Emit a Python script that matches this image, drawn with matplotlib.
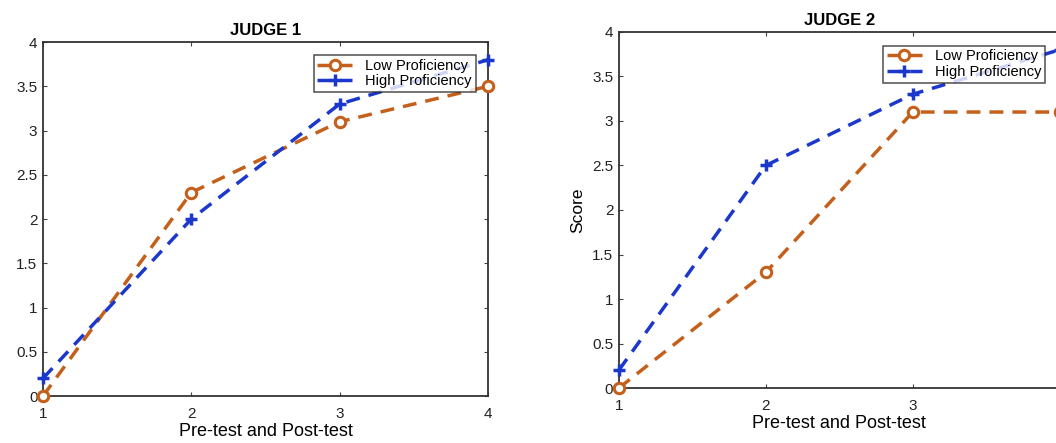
import matplotlib.pyplot as plt
from matplotlib.ticker import FuncFormatter

plt.rcParams['font.family'] = ['Liberation Sans', 'DejaVu Sans']

# test occasions on the x axis
tests = [1, 2, 3, 4]

# judge 1 scores
judge1_low = [0.0, 2.3, 3.1, 3.5]
judge1_high = [0.2, 2.0, 3.3, 3.8]

# judge 2 scores
judge2_low = [0.0, 1.3, 3.1, 3.1]
judge2_high = [0.2, 2.5, 3.3, 3.8]

titles = ['JUDGE 1', 'JUDGE 2']
series_labels = ['Low Proficiency', 'High Proficiency']
y_ticks = [0, 0.5, 1, 1.5, 2, 2.5, 3, 3.5, 4]

LOW_COLOR = '#c4601c'
HIGH_COLOR = '#1c38cc'


def draw_panel(ax, low, high, title, legend_anchor, ylabel=None):
    ax.plot(tests, low, linestyle='--', dashes=(4, 2.6), color=LOW_COLOR, lw=2.5,
            marker='o', markersize=7.5, markerfacecolor='white',
            markeredgecolor=LOW_COLOR, markeredgewidth=2.2, label=series_labels[0],
            clip_on=False, zorder=3)
    ax.plot(tests, high, linestyle='--', dashes=(4, 2.6), color=HIGH_COLOR, lw=2.5,
            marker='+', markersize=8, markeredgewidth=2.5,
            label=series_labels[1], clip_on=False, zorder=3)

    ax.set_xlim(1, 4)
    ax.set_ylim(0, 4)
    ax.set_xticks(tests)
    ax.set_yticks(y_ticks)
    ax.yaxis.set_major_formatter(FuncFormatter(lambda v, p: '%g' % v))
    ax.tick_params(direction='in', top=True, right=True, length=3,
                   labelsize=11, color='#444444', labelcolor='#222222')
    ax.tick_params(axis='x', pad=8)
    ax.tick_params(axis='y', pad=4)
    for s in ax.spines.values():
        s.set_color('#333333')
        s.set_linewidth(1.3)

    ax.set_title(title, fontsize=12, fontweight='bold', pad=5)
    ax.set_xlabel('Pre-test and Post-test', fontsize=13, labelpad=1)
    if ylabel:
        ax.set_ylabel(ylabel, fontsize=12.5, labelpad=5)

    leg = ax.legend(loc='upper right', bbox_to_anchor=legend_anchor,
                    fontsize=10.5, frameon=True, fancybox=False, handlelength=2.4,
                    borderpad=0.25, labelspacing=0.1, handletextpad=0.9,
                    borderaxespad=0)
    leg.get_frame().set_edgecolor('#222222')
    leg.get_frame().set_linewidth(1.1)


fig = plt.figure(figsize=(10.56, 4.43), dpi=100)
ax1 = fig.add_axes([0.0407, 0.106, 0.4214, 0.799])
ax2 = fig.add_axes([0.586, 0.124, 0.4176, 0.804])

draw_panel(ax1, judge1_low, judge1_high, titles[0], (0.972, 0.963))
draw_panel(ax2, judge2_low, judge2_high, titles[1], (0.966, 0.961), ylabel='Score')

fig.savefig('out.png', dpi=100)
